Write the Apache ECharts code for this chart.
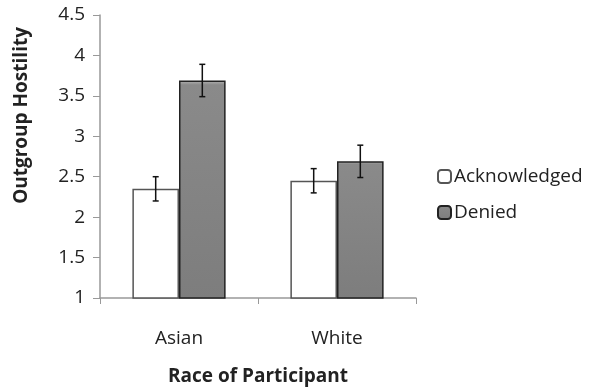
<!DOCTYPE html>
<html><head><meta charset="utf-8">
<script src="https://cdn.jsdelivr.net/npm/echarts@6/dist/echarts.min.js"></script>
<style>html,body{margin:0;padding:0;background:#fff}#c{width:590px;height:387px}</style>
</head><body><div id="c"></div>
<script>
const categories = ['Asian', 'White'];
const seriesNames = ['Acknowledged', 'Denied'];
const acknowledged = [2.35, 2.45];
const denied = [3.69, 2.69];
const acknowledgedErr = [0.15, 0.15];
const deniedErr = [0.2, 0.2];
const yTicks = [1, 1.5, 2, 2.5, 3, 3.5, 4, 4.5];

const FONT = 'Open Sans';
const FS = 19;
const GAP = 0.41;
const chart = echarts.init(document.getElementById('c'));

function errSeries(vals, errs, idx) {
  return {
    type: 'custom',
    z: 10,
    silent: true,
    data: vals.map((v, i) => [i, v, errs[i]]),
    renderItem: function (params, api) {
      const i = api.value(0), v = api.value(1), e = api.value(2);
      const band = api.size([1, 0])[0];
      const bw = band * (1 - GAP) / 2;
      const off = (idx === 0 ? -1 : 1) * bw / 2;
      const top = api.coord([i, v + e]);
      const bot = api.coord([i, v - e]);
      const x = top[0] + off;
      const cap = 3;
      const style = { stroke: '#111', lineWidth: 1.5, fill: null };
      return { type: 'group', children: [
        { type: 'line', shape: { x1: x, y1: top[1], x2: x, y2: bot[1] }, style },
        { type: 'line', shape: { x1: x - cap, y1: top[1], x2: x + cap, y2: top[1] }, style },
        { type: 'line', shape: { x1: x - cap, y1: bot[1], x2: x + cap, y2: bot[1] }, style }
      ]};
    }
  };
}

chart.setOption({
  animation: false,
  textStyle: { fontFamily: FONT },
  grid: { left: 100, right: 174, top: 15, bottom: 89, containLabel: false, outerBoundsMode: 'none' },
  legend: {
    data: seriesNames,
    orient: 'vertical',
    left: 432, top: 162,
    itemWidth: 13, itemHeight: 13, itemGap: 17,
    textStyle: { fontFamily: FONT, fontSize: FS, color: '#222', padding: [0, 0, 0, -2] }
  },
  xAxis: {
    type: 'category',
    data: categories,
    axisLine: { lineStyle: { color: '#999', width: 1.5 } },
    axisTick: { show: true, length: 6, lineStyle: { color: '#999' } },
    axisLabel: { fontSize: FS, color: '#222', margin: 31, fontFamily: FONT },
    name: 'Race of Participant',
    nameLocation: 'middle',
    nameGap: 69,
    nameTextStyle: { fontSize: FS, fontWeight: 'bold', color: '#222', fontFamily: FONT }
  },
  yAxis: {
    type: 'value',
    min: 1, max: 4.5, interval: 0.5,
    splitLine: { show: false },
    axisLine: { show: true, lineStyle: { color: '#999', width: 1.5 } },
    axisTick: { show: true, length: 7, lineStyle: { color: '#999' } },
    axisLabel: { fontSize: FS, color: '#222', margin: 15, fontFamily: FONT,
      formatter: v => yTicks.includes(v) ? String(v) : '' }
  },
  graphic: [{
    type: 'text', left: 12, top: 27, rotation: Math.PI / 2,
    style: { text: 'Outgroup Hostility', fontSize: FS, fontWeight: 'bold', fill: '#222', fontFamily: FONT }
  }],
  series: [
    { name: seriesNames[0], type: 'bar', data: acknowledged, barGap: '0%', barCategoryGap: (GAP * 100) + '%',
      itemStyle: { color: '#ffffff', borderColor: '#555', borderWidth: 1.5 } },
    { name: seriesNames[1], type: 'bar', data: denied, barGap: '0%', barCategoryGap: (GAP * 100) + '%',
      itemStyle: {
        color: { type: 'linear', x: 0, y: 0, x2: 0, y2: 1, colorStops: [
          { offset: 0, color: '#b5b5b5' }, { offset: 0.02, color: '#8a8a8a' }, { offset: 1, color: '#7d7d7d' }] },
        borderColor: '#222', borderWidth: 1.5 } },
    errSeries(acknowledged, acknowledgedErr, 0),
    errSeries(denied, deniedErr, 1)
  ]
});
</script></body></html>
